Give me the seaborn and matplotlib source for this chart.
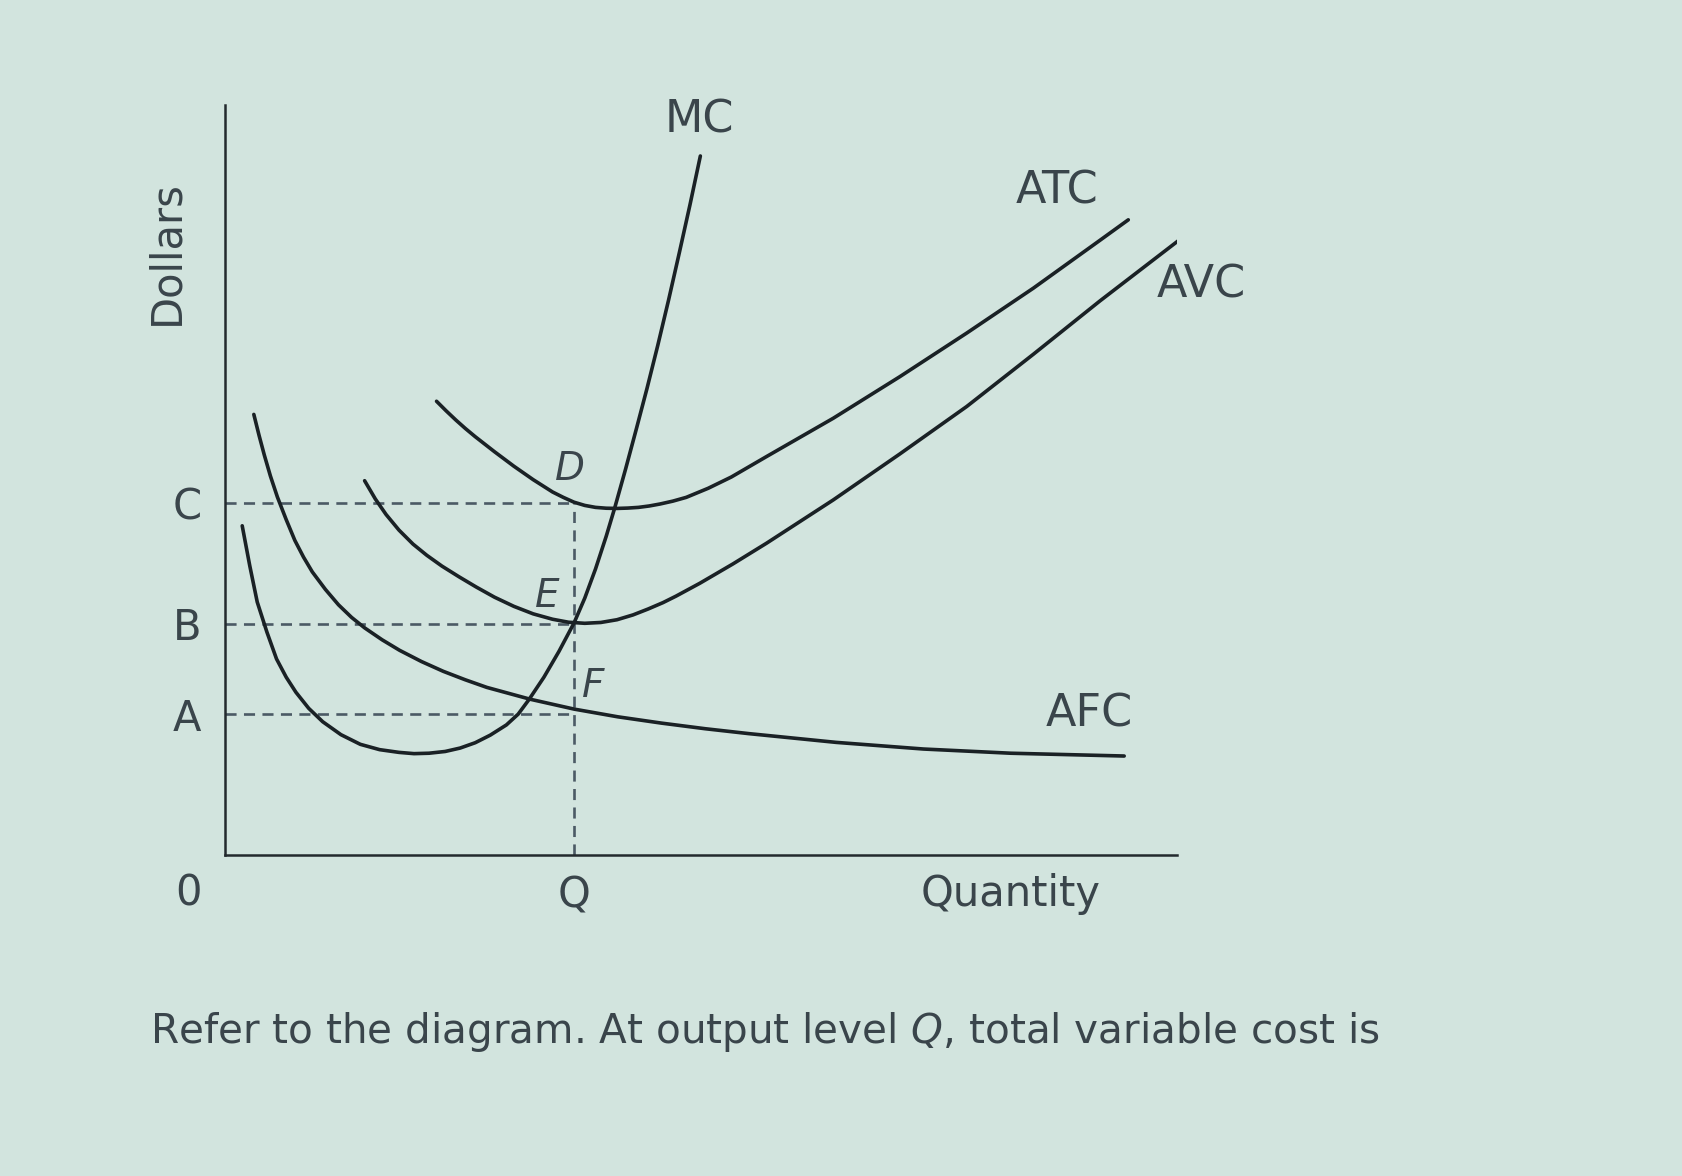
import matplotlib
matplotlib.use("Agg")
import matplotlib.pyplot as plt
import pandas as pd
import seaborn as sns

# ---------------- data ----------------
# x: quantity units (Q = 4), y: dollar units
Q_LEVEL = 4.0
C_LEVEL = 5.04
B_LEVEL = 3.31
A_LEVEL = 2.02

ytick_values = [A_LEVEL, B_LEVEL, C_LEVEL]
ytick_labels = ["A", "B", "C"]
xtick_values = [Q_LEVEL]
xtick_labels = ["Q"]

mc_x = [0.197, 0.283, 0.369, 0.480, 0.590, 0.701, 0.812, 0.959, 1.119, 1.328,
        1.550, 1.771, 1.993, 2.165, 2.337, 2.522, 2.694, 2.866, 3.038, 3.223,
        3.358, 3.481, 3.653, 3.825, 3.998, 4.121, 4.244, 4.367, 4.465, 4.588,
        4.711, 4.834, 4.957, 5.080, 5.203, 5.326, 5.445]
mc_y = [4.709, 4.141, 3.620, 3.190, 2.807, 2.546, 2.331, 2.101, 1.910, 1.725,
        1.587, 1.511, 1.472, 1.454, 1.460, 1.485, 1.534, 1.610, 1.718, 1.864,
        2.018, 2.225, 2.546, 2.914, 3.321, 3.676, 4.092, 4.561, 4.969, 5.517,
        6.089, 6.672, 7.285, 7.929, 8.604, 9.294, 9.992]

afc_x = [0.33, 0.39, 0.45, 0.52, 0.6, 0.7, 0.8, 0.9, 1.0, 1.15, 1.3, 1.45, 1.6,
         1.8, 2.0, 2.25, 2.5, 2.75, 3.0, 3.5, 4.0, 4.5, 5.0, 5.5, 6.0, 7.0,
         8.0, 9.0, 10.3]
afc_y = [6.30, 6.00, 5.72, 5.42, 5.12, 4.80, 4.50, 4.26, 4.05, 3.80, 3.58,
         3.40, 3.25, 3.08, 2.93, 2.77, 2.63, 2.51, 2.40, 2.23, 2.09, 1.98,
         1.89, 1.81, 1.74, 1.615, 1.52, 1.46, 1.42]

avc_x = [1.599, 1.722, 1.845, 1.993, 2.153, 2.312, 2.485, 2.681, 2.878, 3.087,
         3.309, 3.530, 3.752, 3.936, 4.121, 4.305, 4.490, 4.674, 4.846, 5.018,
         5.166, 5.439, 5.818, 6.203, 6.967, 7.731, 8.496, 9.260, 10.023, 10.959]
avc_y = [5.353, 5.092, 4.870, 4.647, 4.448, 4.287, 4.133, 3.980, 3.834, 3.689,
         3.558, 3.451, 3.374, 3.331, 3.316, 3.328, 3.367, 3.436, 3.520, 3.612,
         3.704, 3.888, 4.164, 4.460, 5.078, 5.736, 6.413, 7.160, 7.922, 8.819]

atc_x = [2.423, 2.534, 2.645, 2.755, 2.866, 3.087, 3.309, 3.530, 3.752, 3.875,
         3.998, 4.121, 4.244, 4.367, 4.490, 4.613, 4.736, 4.859, 4.982, 5.129,
         5.283, 5.535, 5.800, 6.203, 6.967, 7.731, 8.496, 9.260, 10.023, 10.347]
atc_y = [6.488, 6.350, 6.219, 6.097, 5.982, 5.767, 5.560, 5.368, 5.192, 5.115,
         5.046, 5.000, 4.972, 4.960, 4.957, 4.962, 4.972, 4.992, 5.020, 5.061,
         5.115, 5.245, 5.406, 5.698, 6.245, 6.840, 7.462, 8.104, 8.788, 9.080]

curve_names = ["MC", "AFC", "AVC", "ATC"]

# ---------------- styling ----------------
BG = "#d2e4de"
INK = "#1a2125"
TXT = "#3a454b"
DASH = "#4b5a65"

sns.set_theme(style="white")
plt.rcParams["font.family"] = ["DejaVu Sans"]
plt.rcParams["mathtext.fontset"] = "dejavusans"

fig = plt.figure(figsize=(16.83, 11.76), dpi=100)
fig.patch.set_facecolor(BG)
ax = fig.add_axes([0.1337, 0.2726, 0.5657, 0.6381])
ax.set_facecolor("none")

frames = []
for name, xs, ys in [("MC", mc_x, mc_y), ("AFC", afc_x, afc_y),
                     ("AVC", avc_x, avc_y), ("ATC", atc_x, atc_y)]:
    frames.append(pd.DataFrame({"q": xs, "cost": ys, "curve": name}))
df = pd.concat(frames, ignore_index=True)

sns.lineplot(data=df, x="q", y="cost", hue="curve", units="curve",
             estimator=None, sort=False, palette={n: INK for n in curve_names},
             linewidth=2.6, legend=False, ax=ax, zorder=3)
for ln in ax.get_lines():
    ln.set_solid_joinstyle("round")

# dashed guide lines
dash_style = (0, (4.2, 2.8))
ax.hlines(ytick_values, 0, Q_LEVEL, colors=DASH, linewidth=1.9,
          linestyles=[dash_style], zorder=2)
ax.vlines(Q_LEVEL, 0, C_LEVEL, colors=DASH, linewidth=1.9,
          linestyles=[dash_style], zorder=2)

ax.set_xlim(0, 10.906)
ax.set_ylim(0, 10.72)
sns.despine(ax=ax)
for side in ["left", "bottom"]:
    ax.spines[side].set_linewidth(1.8)
    ax.spines[side].set_color("#232a2e")

ax.set_yticks(ytick_values, ytick_labels)
ax.set_xticks(xtick_values, xtick_labels)
ax.tick_params(axis="y", length=0, pad=17, labelsize=30, labelcolor=TXT)
ax.tick_params(axis="x", length=0, pad=14, labelsize=30, labelcolor=TXT)
ax.grid(False)

ax.set_xlabel("Quantity", fontsize=30, color=TXT, va="center")
ax.xaxis.set_label_coords(0.8256, -0.0514)
ax.set_ylabel("Dollars", fontsize=30, color=TXT, va="center")
ax.yaxis.set_label_coords(-0.0616, 0.8038)

ax.text(-0.0385, -0.0514, "0", transform=ax.transAxes, fontsize=30,
        color=TXT, ha="center", va="center")

# curve labels
lab_kw = dict(fontsize=32, color=TXT, ha="center", va="center", clip_on=False)
ax.text(5.437, 10.506, "MC", **lab_kw)
ax.text(9.533, 9.494, "ATC", **lab_kw)
ax.text(11.18, 8.144, "AVC", **lab_kw)
ax.text(9.902, 2.025, "AFC", **lab_kw)

pt_kw = dict(fontsize=28, color=TXT, ha="center", va="center", style="italic")
ax.text(3.948, 5.521, "D", **pt_kw)
ax.text(3.690, 3.712, "E", **pt_kw)
ax.text(4.219, 2.423, "F", **pt_kw)

fig.text(150 / 1683, 1 - 1032 / 1176,
         r"Refer to the diagram. At output level $\mathit{Q}$, total variable cost is",
         fontsize=29.2, color=TXT, ha="left", va="center")

fig.savefig("out.png", dpi=100, facecolor=BG)
